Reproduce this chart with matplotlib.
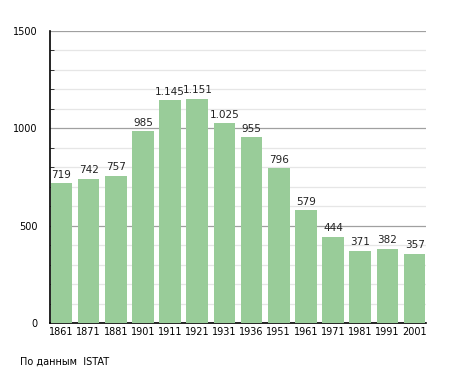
import matplotlib
matplotlib.use("Agg")
import matplotlib.pyplot as plt
from matplotlib.ticker import MultipleLocator

years = ["1861", "1871", "1881", "1901", "1911", "1921", "1931", "1936",
         "1951", "1961", "1971", "1981", "1991", "2001"]
population = [719, 742, 757, 985, 1145, 1151, 1025, 955, 796, 579, 444, 371, 382, 357]


def fmt(v):
    # italian style thousands separator
    return "{:,}".format(v).replace(",", ".")


fig = plt.figure(figsize=(4.55, 3.73), dpi=100)
ax = fig.add_axes([0.1099, 0.134, 0.8264, 0.7829])

x = range(len(years))
bars = ax.bar(x, population, width=0.8, color="#99cc99", zorder=3)
for xi, v in zip(x, population):
    ax.text(xi, v + 18, fmt(v), ha="center", va="bottom", fontsize=7.5, color="#222222", zorder=4)

ax.set_xlim(-0.42, len(years) - 0.58)
ax.set_ylim(0, 1500)
ax.set_xticks(list(x))
ax.set_xticklabels(years, fontsize=7)
ax.yaxis.set_major_locator(MultipleLocator(500))
ax.yaxis.set_minor_locator(MultipleLocator(100))
ax.tick_params(axis="y", which="major", length=0, labelsize=7, pad=9)
ax.tick_params(axis="y", which="minor", length=3, width=0.7, direction="in", color="#333333")
ax.tick_params(axis="x", length=0, pad=3)

ax.grid(True, axis="y", which="major", color="#a0a0a0", lw=0.9, zorder=1)
ax.grid(True, axis="y", which="minor", color="#e6e6e6", lw=0.9, zorder=1)

for s in ("top", "right"):
    ax.spines[s].set_visible(False)
ax.spines["left"].set_color("black")
ax.spines["bottom"].set_color("black")
ax.spines["left"].set_linewidth(1.2)
ax.spines["bottom"].set_linewidth(1.2)

fig.text(20 / 455, 1 - 362 / 373, "По данным  ISTAT", fontsize=7, va="center", ha="left")

fig.savefig("out.png", dpi=100)
